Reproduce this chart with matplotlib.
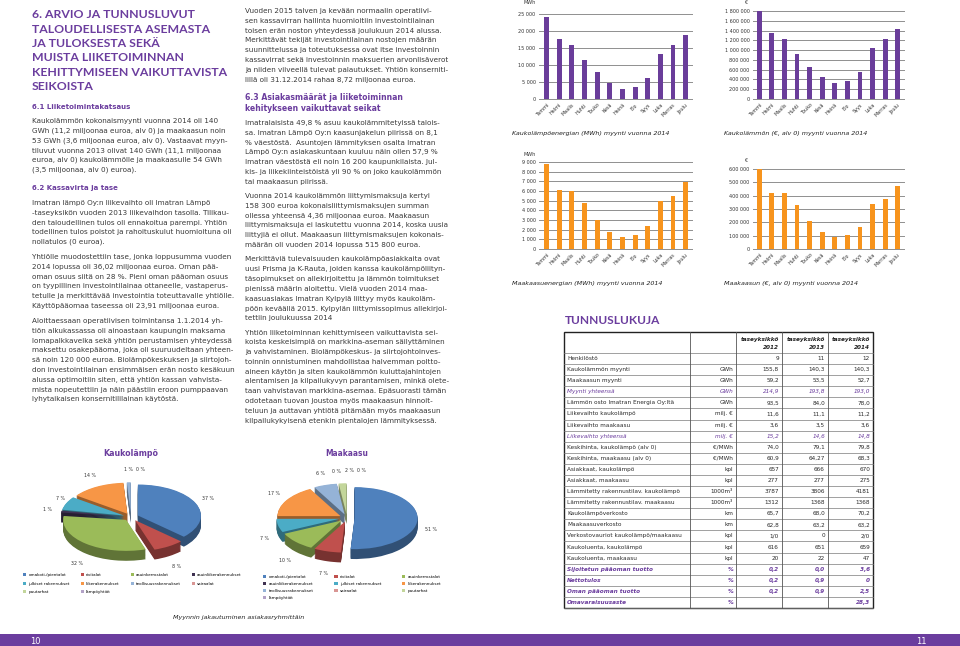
import numpy as np
import matplotlib
matplotlib.use("Agg")
import matplotlib.pyplot as plt
from matplotlib.patches import Patch, Rectangle
from matplotlib.ticker import FuncFormatter

# -------------------------------------------------------
# Data
# -------------------------------------------------------
months = ["Tammi", "Helmi", "Maalis", "Huhti", "Touko", "Kesä",
          "Heinä", "Elo", "Syys", "Loka", "Marras", "Joulu"]

kl_mwh = [24000, 17700, 15850, 11600, 7850, 4700, 2950, 3550, 6200, 13350, 15750, 18850]
kl_eur = [1800000, 1355000, 1218000, 930000, 660000, 445000, 330000, 360000, 550000, 1047000, 1220000, 1430000]
mk_mwh = [8800, 6100, 6030, 4790, 3030, 1790, 1280, 1480, 2410, 4930, 5450, 6900]
mk_eur = [600000, 417000, 417000, 329000, 211000, 128000, 93000, 103000, 166000, 339000, 374000, 472000]

pie_labels = ["omakoti-/pientalot", "rivitalot", "asuinkerrostalot", "asuinliikerakennukset",
              "julkiset rakennukset", "liikerakennukset", "teollisuusrakennukset", "sairaalat",
              "puutarhat", "lämpöyhtiöt"]
pie_colors = ["#4f81bd", "#c0504d", "#9bbb59", "#3f3151", "#4bacc6",
              "#f79646", "#95b3d7", "#d99694", "#c3d69b", "#b3a2c7"]
kl_share = [37, 8, 32, 1, 7, 14, 1, 0, 0, 0]
kl_shown = [True, True, True, True, True, True, True, True, False, False]
mk_share = [51, 7, 10, 0, 7, 17, 6, 0, 2, 0]
mk_shown = [True, True, True, False, True, True, True, True, True, True]

tbl_labels = ["Henkilöstö", "Kaukolämmön myynti", "Maakaasun myynti", "Myynti yhteensä",
              "Lämmön osto Imatran Energia Oy:ltä", "Liikevaihto kaukolämpö", "Liikevaihto maakaasu",
              "Liikevaihto yhteensä", "Keskihinta, kaukolämpö (alv 0)", "Keskihinta, maakaasu (alv 0)",
              "Asiakkaat, kaukolämpö", "Asiakkaat, maakaasu", "Lämmitetty rakennustilav. kaukolämpö",
              "Lämmitetty rakennustilav. maakaasu", "Kaukolämpöverkosto", "Maakaasuverkosto",
              "Verkostovauriot kaukolämpö/maakaasu", "Kaukoluenta, kaukolämpö", "Kaukoluenta, maakaasu",
              "Sijoitetun pääoman tuotto", "Nettotulos", "Oman pääoman tuotto", "Omavaraisuusaste"]
tbl_units = ["", "GWh", "GWh", "GWh", "GWh", "milj. €", "milj. €", "milj. €", "€/MWh", "€/MWh",
             "kpl", "kpl", "1000m³", "1000m³", "km", "km", "kpl", "kpl", "kpl", "%", "%", "%", "%"]
tbl_2012 = ["9", "155,8", "59,2", "214,9", "93,5", "11,6", "3,6", "15,2", "74,0", "60,9", "657", "277",
            "3787", "1312", "65,7", "62,8", "1/0", "616", "20", "0,2", "0,2", "0,2", ""]
tbl_2013 = ["11", "140,3", "53,5", "193,8", "84,0", "11,1", "3,5", "14,6", "79,1", "64,27", "666", "277",
            "3806", "1368", "68,0", "63,2", "0", "651", "22", "0,0", "0,9", "0,9", ""]
tbl_2014 = ["12", "140,3", "52,7", "193,0", "78,0", "11,2", "3,6", "14,8", "79,8", "68,3", "670", "275",
            "4181", "1368", "70,2", "63,2", "2/0", "659", "47", "3,6", "0", "2,5", "28,3"]
tbl_style = ["n", "n", "n", "s", "n", "n", "n", "s", "n", "n", "n", "n", "n", "n", "n", "n",
             "n", "n", "n", "k", "k", "k", "k"]
tbl_years = ["2012", "2013", "2014"]

heading = ["6. ARVIO JA TUNNUSLUVUT", "TALOUDELLISESTA ASEMASTA", "JA TULOKSESTA SEKÄ",
           "MUISTA LIIKETOIMINNAN", "KEHITTYMISEEN VAIKUTTAVISTA", "SEIKOISTA"]

p61 = ["Kaukolämmön kokonaismyynti vuonna 2014 oli 140",
       "GWh (11,2 miljoonaa euroa, alv 0) ja maakaasun noin",
       "53 GWh (3,6 miljoonaa euroa, alv 0). Vastaavat myyn-",
       "tiluvut vuonna 2013 olivat 140 GWh (11,1 miljoonaa",
       "euroa, alv 0) kaukolämmölle ja maakaasulle 54 GWh",
       "(3,5 miljoonaa, alv 0) euroa)."]
p62a = ["Imatran lämpö Oy:n liikevaihto oli Imatran Lämpö",
        "-taseyksikön vuoden 2013 liikevaihdon tasolla. Tilikau-",
        "den taloudellinen tulos oli ennakoitua parempi. Yhtiön",
        "todellinen tulos poistot ja rahoituskulut huomioituna oli",
        "nollatulos (0 euroa)."]
p62b = ["Yhtiölle muodostettiin tase, jonka loppusumma vuoden",
        "2014 lopussa oli 36,02 miljoonaa euroa. Oman pää-",
        "oman osuus siitä on 28 %. Pieni oman pääoman osuus",
        "on tyypillinen investointilainaa ottaneelle, vastaperus-",
        "tetulle ja merkittävää investointia toteuttavalle yhtiölle.",
        "Käyttöpääomaa taseessa oli 23,91 miljoonaa euroa."]
p62c = ["Aloittaessaan operatiivisen toimintansa 1.1.2014 yh-",
        "tiön alkukassassa oli ainoastaan kaupungin maksama",
        "lomapalkkavelka sekä yhtiön perustamisen yhteydessä",
        "maksettu osakepääoma, joka oli suuruudeltaan yhteen-",
        "sä noin 120 000 euroa. Biolämpökeskuksen ja siirtojoh-",
        "don investointilainan ensimmäisen erän nosto kesäkuun",
        "alussa optimoitiin siten, että yhtiön kassan vahvista-",
        "mista nopeutettiin ja näin päästiin eroon pumppaavan",
        "lyhytaikaisen konsernitililainan käytöstä."]
m1 = ["Vuoden 2015 talven ja kevään normaalin operatiivi-",
      "sen kassavirran hallinta huomioitiin investointilainan",
      "toisen erän noston yhteydessä joulukuun 2014 alussa.",
      "Merkittävät tekijät investointilainan nostojen määrän",
      "suunnittelussa ja toteutuksessa ovat itse investoinnin",
      "kassavirrat sekä investoinnin maksuerien arvonlisäverot",
      "ja niiden viiveellä tulevat palautukset. Yhtiön konserniti-",
      "lillä oli 31.12.2014 rahaa 8,72 miljoonaa euroa."]
h63 = ["6.3 Asiakasmäärät ja liiketoiminnan", "kehitykseen vaikuttavat seikat"]
m2 = ["Imatralaisista 49,8 % asuu kaukolämmitetyissä talois-",
      "sa. Imatran Lämpö Oy:n kaasunjakelun piirissä on 8,1",
      "% väestöstä.  Asuntojen lämmityksen osalta Imatran",
      "Lämpö Oy:n asiakaskuntaan kuuluu näin ollen 57,9 %",
      "Imatran väestöstä eli noin 16 200 kaupunkilaista. Jul-",
      "kis- ja liikekiinteistöistä yli 90 % on joko kaukolämmön",
      "tai maakaasun piirissä."]
m3 = ["Vuonna 2014 kaukolämmön liittymismaksuja kertyi",
      "158 300 euroa kokonaisliittymismaksujen summan",
      "ollessa yhteensä 4,36 miljoonaa euroa. Maakaasun",
      "liittymismaksuja ei laskutettu vuonna 2014, koska uusia",
      "liittyjiä ei ollut. Maakaasun liittymismaksujen kokonais-",
      "määrän oli vuoden 2014 lopussa 515 800 euroa."]
m4 = ["Merkittäviä tulevaisuuden kaukolämpöasiakkaita ovat",
      "uusi Prisma ja K-Rauta, joiden kanssa kaukolämpöliityn-",
      "täsopimukset on allekirjoitettu ja lämmön toimitukset",
      "pienissä määrin aloitettu. Vielä vuoden 2014 maa-",
      "kaasuasiakas Imatran Kylpylä liittyy myös kaukoläm-",
      "pöön keväällä 2015. Kylpylän liittymissopimus allekirjoi-",
      "tettiin joulukuussa 2014"]
m5 = ["Yhtiön liiketoiminnan kehittymiseen vaikuttavista sei-",
      "koista keskeisimpiä on markkina-aseman säilyttäminen",
      "ja vahvistaminen. Biolämpökeskus- ja siirtojohtoinves-",
      "toinnin onnistuminen mahdollistaa halvemman poltto-",
      "aineen käytön ja siten kaukolämmön kuluttajahintojen",
      "alentamisen ja kilpailukyvyn parantamisen, minkä olete-",
      "taan vahvistavan markkina-asemaa. Epäsuorasti tämän",
      "odotetaan tuovan joustoa myös maakaasun hinnoit-",
      "teluun ja auttavan yhtiötä pitämään myös maakaasun",
      "kilpailukykyisenä etenkin pientalojen lämmityksessä."]

# -------------------------------------------------------
# Page setup
# -------------------------------------------------------
W, H = 960, 646
PURPLE = "#6b3d9e"
BAR_PURPLE = "#6a3d9a"
ORANGE = "#f7941d"
BODY = "#3a3a3a"
BODY_FONT = "DejaVu Sans"
HEAD_FONT = "Lato"

fig = plt.figure(figsize=(9.6, 6.46), dpi=100)
page = fig.add_axes([0, 0, 1, 1])
page.set_xlim(0, W)
page.set_ylim(H, 0)
page.axis("off")
renderer = fig.canvas.get_renderer()


def fit(s, width, **kw):
    t = page.text(0, 0, s, fontsize=10, **kw)
    w = t.get_window_extent(renderer).width
    t.remove()
    return 10.0 * width / w


def lines(x, y0, rows, step, **kw):
    for i, s in enumerate(rows):
        page.text(x, y0 + i * step, s, va="center", ha="left", **kw)


# -------------------------------------------------------
# Text columns
# -------------------------------------------------------
head_size = fit("KEHITTYMISEEN VAIKUTTAVISTA", 196, family=HEAD_FONT, weight="bold")
lines(32, 15, heading, 14.3, family=HEAD_FONT, weight="bold", color=PURPLE, fontsize=head_size)

sub_size = fit("6.1 Liiketoimintakatsaus", 98, family=BODY_FONT, weight="bold")
h63_size = fit(h63[0], 157, family=BODY_FONT, weight="bold")
body_size = fit("GWh (11,2 miljoonaa euroa, alv 0) ja maakaasun noin", 196, family=BODY_FONT)
LH = 9.8
body = dict(family=BODY_FONT, fontsize=body_size, color=BODY)
sub = dict(family=BODY_FONT, fontsize=sub_size, weight="bold", color=PURPLE)

page.text(32, 107, "6.1 Liiketoimintakatsaus", va="center", **sub)
lines(32, 121, p61, LH, **body)
page.text(32, 188, "6.2 Kassavirta ja tase", va="center", **sub)
lines(32, 203, p62a, LH, **body)
lines(32, 257, p62b, LH, **body)
lines(32, 321, p62c, LH, **body)

lines(245, 11, m1, LH, **body)
lines(245, 97.5, h63, 11, family=BODY_FONT, fontsize=h63_size, weight="bold", color=PURPLE)
lines(245, 123, m2, LH, **body)
lines(245, 196, m3, LH, **body)
lines(245, 259.5, m4, LH, **body)
lines(245, 332.5, m5, LH, **body)

# -------------------------------------------------------
# Monthly bar charts
# -------------------------------------------------------
cap_size = fit("Kaukolämpöenergian (MWh) myynti vuonna 2014", 159, family=BODY_FONT, style="italic")


def space_fmt(v, pos):
    return f"{int(round(v)):,}".replace(",", " ")


def bar_chart(rect, values, ymax, step, color, unit, unit_xy, caption, cap_xy, xlim):
    left, top, right, bottom = rect
    ax = fig.add_axes([left / W, 1 - bottom / H, (right - left) / W, (bottom - top) / H])
    x = np.arange(len(months))
    ax.bar(x, values, width=0.38, color=color, zorder=3)
    ax.set_ylim(0, ymax)
    ax.set_yticks(np.arange(0, ymax + 1, step))
    ax.yaxis.set_major_formatter(FuncFormatter(space_fmt))
    ax.grid(axis="y", color="#8f8f8f", lw=0.7, zorder=0)
    for gl in ax.get_ygridlines():
        gl.set_clip_on(False)
    for s in ax.spines.values():
        s.set_visible(False)
    ax.set_xlim(*xlim)
    ax.set_xticks(x)
    ax.set_xticklabels(months, rotation=45, ha="right", rotation_mode="anchor")
    ax.tick_params(length=0, labelsize=3.5, colors="#333333", pad=2.5)
    ax.patch.set_alpha(0)
    page.text(unit_xy[0], unit_xy[1], unit, ha="center", va="center",
              fontsize=3.5, color="#333333", family=BODY_FONT)
    page.text(cap_xy[0], cap_xy[1], caption, ha="left", va="center", style="italic",
              fontsize=cap_size, color="#222222", family=BODY_FONT)


bar_chart((539, 14, 692, 99), kl_mwh, 25000, 5000, BAR_PURPLE, "MWh", (530, 3),
          "Kaukolämpöenergian (MWh) myynti vuonna 2014", (512, 133), (-0.6, 11.5))
bar_chart((753, 11, 904, 99), kl_eur, 1800000, 200000, BAR_PURPLE, "€", (747, 3),
          "Kaukolämmön (€, alv 0) myynti vuonna 2014", (724, 133), (-0.5, 11.5))
bar_chart((539, 162, 692, 249), mk_mwh, 9000, 1000, ORANGE, "MWh", (530, 154),
          "Maakaasuenergian (MWh) myynti vuonna 2014", (512, 284), (-0.6, 11.5))
bar_chart((753, 169, 904, 249), mk_eur, 600000, 100000, ORANGE, "€", (747, 161),
          "Maakaasun (€, alv 0) myynti vuonna 2014", (724, 284), (-0.5, 11.5))

# -------------------------------------------------------
# Key figures table
# -------------------------------------------------------
title_size = fit("TUNNUSLUKUJA", 95, family=HEAD_FONT, weight="bold")
page.text(565, 321, "TUNNUSLUKUJA", ha="left", va="center", family=HEAD_FONT,
          weight="bold", fontsize=title_size, color=PURPLE)

cols = [564, 690, 736, 782, 828, 873]
t_top, h_bot, t_bot = 332, 353, 608
row_h = (t_bot - h_bot) / len(tbl_labels)
tsize = fit("Lämmön osto Imatran Energia Oy:ltä", 106, family=BODY_FONT)

for i in range(len(tbl_labels) + 1):
    yy = h_bot + i * row_h
    page.plot([cols[0], cols[-1]], [yy, yy], color="#7a7a7a", lw=0.5)
for xx in cols[1:-1]:
    page.plot([xx, xx], [t_top, t_bot], color="#555555", lw=0.6)
page.add_patch(Rectangle((cols[0], t_top), cols[-1] - cols[0], t_bot - t_top,
                         fill=False, edgecolor="#222222", lw=1.0))

for j, yr in enumerate(tbl_years):
    xr = cols[j + 3] - 3
    page.text(xr, 339.5, "taseyksikkö", ha="right", va="center", fontsize=tsize,
              style="italic", weight="bold", color="#222222", family=BODY_FONT)
    page.text(xr, 347.5, yr, ha="right", va="center", fontsize=tsize,
              style="italic", weight="bold", color="#222222", family=BODY_FONT)

styles = {"n": dict(color="#2a2a2a"),
          "s": dict(color=PURPLE, style="italic"),
          "k": dict(color=PURPLE, style="italic", weight="bold")}
for i, lab in enumerate(tbl_labels):
    yc = h_bot + (i + 0.5) * row_h
    st = styles[tbl_style[i]]
    page.text(cols[0] + 3, yc, lab, ha="left", va="center", fontsize=tsize, family=BODY_FONT, **st)
    page.text(cols[2] - 3, yc, tbl_units[i], ha="right", va="center", fontsize=tsize,
              family=BODY_FONT, **st)
    for j, col in enumerate([tbl_2012, tbl_2013, tbl_2014]):
        page.text(cols[j + 3] - 3, yc, col[i], ha="right", va="center", fontsize=tsize,
                  family=BODY_FONT, **st)

# -------------------------------------------------------
# 3D-looking pie charts
# -------------------------------------------------------
def darken(c, f=0.62):
    r, g, b = matplotlib.colors.to_rgb(c)
    return (r * f, g * f, b * f)


def pie3d(cx, cy, shares, shown, title, title_w):
    sx, sy = 63.0, 31.0
    x0, x1, y0, y1 = -1.6, 1.6, -1.8, 1.5
    left, right = cx + x0 * sx, cx + x1 * sx
    top, bottom = cy - y1 * sy, cy - y0 * sy
    ax = fig.add_axes([left / W, 1 - bottom / H, (right - left) / W, (bottom - top) / H])
    explode = [0.12] * len(shares)
    depth = 0.32
    dark = [darken(c) for c in pie_colors]
    for k in np.linspace(-depth, -0.02, 12):
        ax.pie(shares, colors=dark, explode=explode, startangle=90, counterclock=False,
               center=(0, k), wedgeprops=dict(linewidth=0))
    wedges, _ = ax.pie(shares, colors=pie_colors, explode=explode, startangle=90,
                       counterclock=False, wedgeprops=dict(linewidth=0))
    prev = None
    for w, v, s in zip(wedges, shares, shown):
        if not s:
            continue
        ang = np.deg2rad((w.theta1 + w.theta2) / 2)
        lx = w.center[0] + 1.22 * np.cos(ang)
        ly = w.center[1] + 1.22 * np.sin(ang) * 1.15
        if np.sin(ang) < 0:
            ly -= depth
        if prev is not None and abs(lx - prev[0]) < 0.2 and abs(ly - prev[1]) < 0.4:
            lx = prev[0] + 0.2
        prev = (lx, ly)
        ax.text(lx, ly, f"{v} %", fontsize=3.4, ha="center", va="center", color="#333333")
    ax.set_aspect("auto")
    ax.set_xlim(x0, x1)
    ax.set_ylim(y0, y1)
    ax.axis("off")
    tsz = fit(title, title_w, family=BODY_FONT, weight="bold")
    page.text(cx, 453.5, title, ha="center", va="center", fontsize=tsz, weight="bold",
              color=PURPLE, family=BODY_FONT)


pie3d(131, 517, kl_share, kl_shown, "Kaukolämpö", 55)
pie3d(347, 518, mk_share, mk_shown, "Maakaasu", 43)

handles = [Patch(facecolor=c, edgecolor="none") for c in pie_colors]
order4 = [0, 4, 8, 1, 5, 9, 2, 6, 3, 7]
fig.legend([handles[i] for i in order4], [pie_labels[i] for i in order4],
           loc="upper left", bbox_to_anchor=(23 / W, 1 - 573 / H), ncol=4, frameon=False,
           fontsize=3.0, handlelength=0.8, handleheight=0.8, handletextpad=0.5,
           columnspacing=2.6, labelspacing=1.1, borderaxespad=0, borderpad=0)
order3 = [0, 3, 6, 9, 1, 4, 7, 2, 5, 8]
fig.legend([handles[i] for i in order3], [pie_labels[i] for i in order3],
           loc="upper left", bbox_to_anchor=(263 / W, 1 - 575 / H), ncol=3, frameon=False,
           fontsize=3.0, handlelength=0.8, handleheight=0.8, handletextpad=0.5,
           columnspacing=5.0, labelspacing=0.7, borderaxespad=0, borderpad=0)

cap2 = fit("Myynnin jakautuminen asiakasryhmittäin", 132, family=BODY_FONT, style="italic")
page.text(173, 617, "Myynnin jakautuminen asiakasryhmittäin", ha="left", va="center",
          style="italic", fontsize=cap2, color="#222222", family=BODY_FONT)

# -------------------------------------------------------
# Page footer
# -------------------------------------------------------
page.add_patch(Rectangle((0, 634), W, 12, color=PURPLE, lw=0))
page.text(35, 641, "10", ha="center", va="center", color="white", fontsize=6, family=BODY_FONT)
page.text(921, 641, "11", ha="center", va="center", color="white", fontsize=6, family=BODY_FONT)

fig.savefig("out.png", dpi=100)
